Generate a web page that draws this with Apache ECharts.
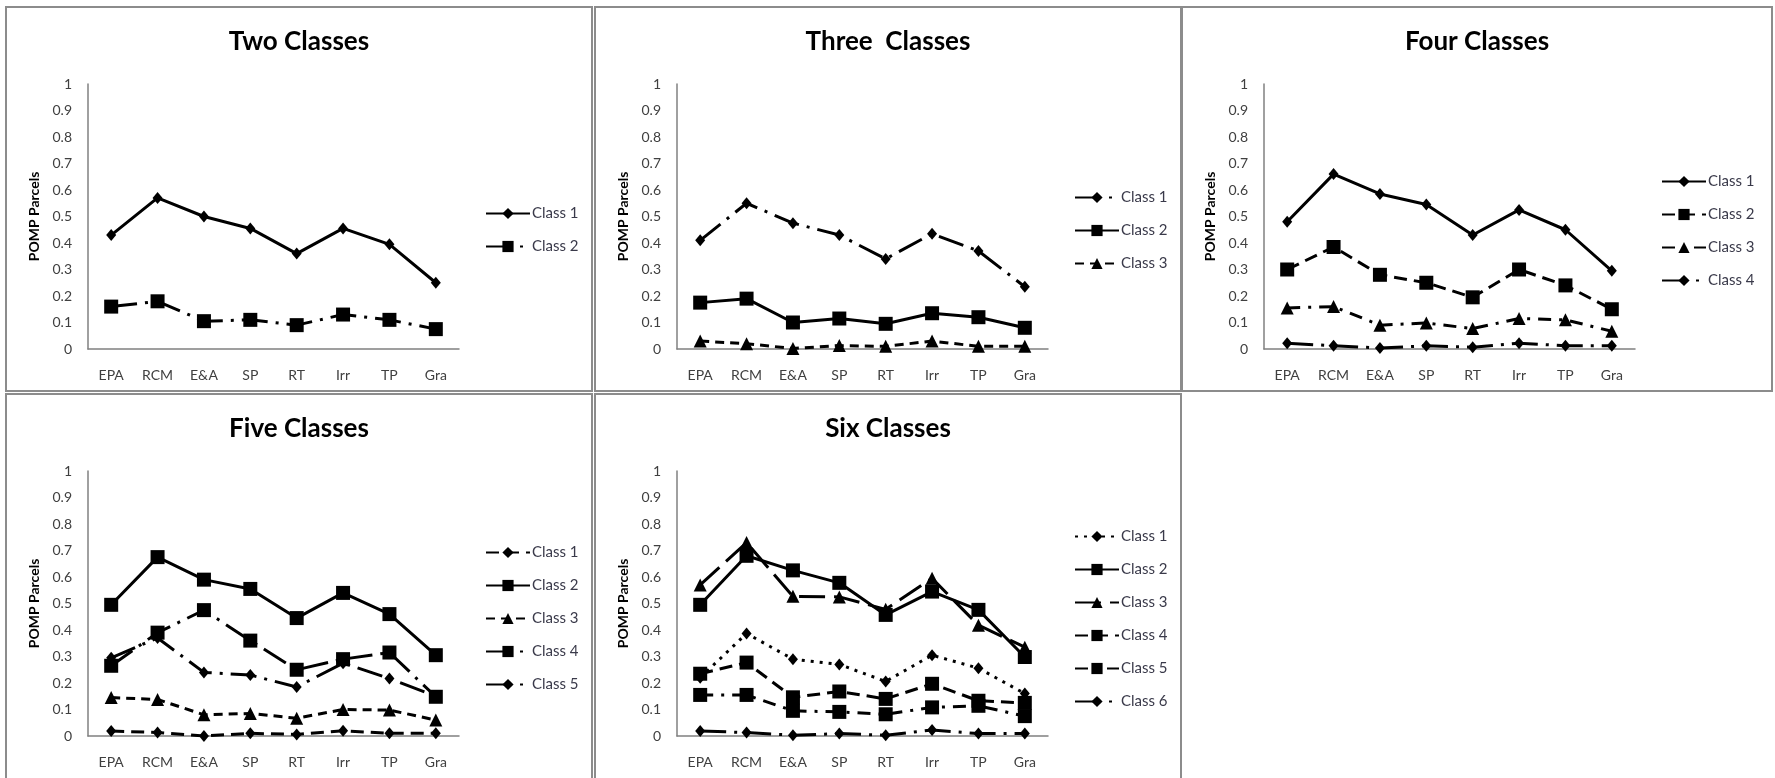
<!DOCTYPE html>
<html><head><meta charset="utf-8">
<script src="https://cdn.jsdelivr.net/npm/echarts@6/dist/echarts.min.js"></script>
<style>
html,body{margin:0;padding:0;background:#fff;width:1775px;height:778px;overflow:hidden;position:relative}
.panel{position:absolute;border:2px solid #8c8c8c;box-sizing:border-box;background:#fff}
</style></head><body>
<div id="p1" class="panel" style="left:5px;top:6px;width:588px;height:386px"></div>
<div id="p2" class="panel" style="left:594px;top:6px;width:588px;height:386px"></div>
<div id="p3" class="panel" style="left:1181px;top:6px;width:592px;height:386px"></div>
<div id="p4" class="panel" style="left:5px;top:393px;width:588px;height:392px"></div>
<div id="p5" class="panel" style="left:594px;top:393px;width:588px;height:392px"></div>
<script>
// ---- data ----
const categories = ['EPA', 'RCM', 'E&A', 'SP', 'RT', 'Irr', 'TP', 'Gra'];
const yTickLabels = ['0', '0.1', '0.2', '0.3', '0.4', '0.5', '0.6', '0.7', '0.8', '0.9', '1'];
const classNames = ['Class 1', 'Class 2', 'Class 3', 'Class 4', 'Class 5', 'Class 6'];
const panelTitles = ['Two Classes', 'Three  Classes', 'Four Classes', 'Five Classes', 'Six Classes'];
const yAxisName = 'POMP Parcels';

// Two classes
const two_c1 = [0.43, 0.57, 0.50, 0.455, 0.36, 0.455, 0.395, 0.25];
const two_c2 = [0.16, 0.18, 0.105, 0.11, 0.09, 0.13, 0.11, 0.075];
// Three classes
const three_c1 = [0.41, 0.55, 0.475, 0.43, 0.34, 0.435, 0.37, 0.235];
const three_c2 = [0.175, 0.19, 0.10, 0.115, 0.095, 0.135, 0.12, 0.08];
const three_c3 = [0.03, 0.02, 0.002, 0.013, 0.01, 0.03, 0.01, 0.01];
// Four classes
const four_c1 = [0.48, 0.66, 0.585, 0.545, 0.43, 0.525, 0.45, 0.295];
const four_c2 = [0.30, 0.385, 0.28, 0.25, 0.195, 0.30, 0.24, 0.15];
const four_c3 = [0.155, 0.16, 0.09, 0.098, 0.077, 0.115, 0.11, 0.067];
const four_c4 = [0.022, 0.012, 0.004, 0.012, 0.007, 0.022, 0.012, 0.012];
// Five classes
const five_c1 = [0.019, 0.013, 0.0, 0.01, 0.006, 0.02, 0.01, 0.01];
const five_c2 = [0.495, 0.675, 0.59, 0.555, 0.445, 0.54, 0.46, 0.305];
const five_c3 = [0.145, 0.138, 0.08, 0.085, 0.067, 0.10, 0.098, 0.06];
const five_c4 = [0.265, 0.39, 0.475, 0.36, 0.25, 0.29, 0.315, 0.148];
const five_c5 = [0.295, 0.37, 0.24, 0.23, 0.185, 0.275, 0.217, 0.15];
// Six classes
const six_c1 = [0.22, 0.387, 0.29, 0.27, 0.206, 0.305, 0.256, 0.16];
const six_c2 = [0.495, 0.68, 0.625, 0.578, 0.457, 0.545, 0.476, 0.298];
const six_c3 = [0.57, 0.73, 0.527, 0.525, 0.478, 0.595, 0.418, 0.335];
const six_c4 = [0.235, 0.277, 0.146, 0.168, 0.14, 0.197, 0.133, 0.125];
const six_c5 = [0.155, 0.155, 0.095, 0.091, 0.082, 0.108, 0.114, 0.075];
const six_c6 = [0.019, 0.013, 0.003, 0.009, 0.003, 0.023, 0.009, 0.009];

// ---- styles ----
const DASH = {
  solid: 'solid',
  longDash: [26, 9],
  dash: [13, 7],
  shortDash: [9, 6],
  dashDot: [13, 8, 3, 8],
  longDashDot: [26, 8, 3, 8],
  dot: [3, 6]
};
const SYM = {
  diamond: {symbol: 'diamond', size: [10, 12]},
  square: {symbol: 'rect', size: 14},
  triangle: {symbol: 'triangle', size: 13}
};

const panels = [
  {id: 'p1', title: panelTitles[0], series: [
    {data: two_c1, dash: 'solid', sym: 'diamond'},
    {data: two_c2, dash: 'longDashDot', sym: 'square'}]},
  {id: 'p2', title: panelTitles[1], series: [
    {data: three_c1, dash: 'longDashDot', sym: 'diamond'},
    {data: three_c2, dash: 'solid', sym: 'square'},
    {data: three_c3, dash: 'shortDash', sym: 'triangle'}]},
  {id: 'p3', title: panelTitles[2], series: [
    {data: four_c1, dash: 'solid', sym: 'diamond'},
    {data: four_c2, dash: 'dash', sym: 'square'},
    {data: four_c3, dash: 'dashDot', sym: 'triangle'},
    {data: four_c4, dash: 'longDashDot', sym: 'diamond'}]},
  {id: 'p4', title: panelTitles[3], series: [
    {data: five_c1, dash: 'dash', sym: 'diamond'},
    {data: five_c2, dash: 'solid', sym: 'square'},
    {data: five_c3, dash: 'shortDash', sym: 'triangle'},
    {data: five_c4, dash: 'longDashDot', sym: 'square'},
    {data: five_c5, dash: 'longDashDot', sym: 'diamond'}]},
  {id: 'p5', title: panelTitles[4], series: [
    {data: six_c1, dash: 'dot', sym: 'diamond'},
    {data: six_c2, dash: 'solid', sym: 'square'},
    {data: six_c3, dash: 'longDash', sym: 'triangle'},
    {data: six_c4, dash: 'dash', sym: 'square'},
    {data: six_c5, dash: 'dashDot', sym: 'square'},
    {data: six_c6, dash: 'longDashDot', sym: 'diamond'}]}
];

// layout (relative to each panel's content box)
const GRID_LEFT = 81, GRID_W = 371, GRID_TOP = 76, GRID_H = 265;
const LEG_LEFT = 478, ITEM_PITCH = 32, LEG_CENTER = GRID_TOP + 145;

panels.forEach(function (p) {
  const el = document.getElementById(p.id);
  const chart = echarts.init(el, null, {renderer: 'canvas'});
  const n = p.series.length;
  const names = classNames.slice(0, n);
  const option = {
    animation: false,
    backgroundColor: '#fff',
    title: {
      text: p.title, left: 'center', top: 21, padding: 0,
      textStyle: {fontFamily: 'Lato', fontWeight: 'bold', fontSize: 26, color: '#000'}
    },
    grid: {left: GRID_LEFT, top: GRID_TOP, width: GRID_W, height: GRID_H, containLabel: false},
    legend: {
      orient: 'vertical', left: LEG_LEFT, padding: 0,
      top: LEG_CENTER - (n - 1) * ITEM_PITCH / 2 - 7,
      itemWidth: 44, itemHeight: 14, itemGap: ITEM_PITCH - 14,
      textStyle: {fontFamily: 'Lato', fontSize: 15, color: '#3a3a4a', padding: [0, 0, 0, -3]},
      data: names
    },
    xAxis: {
      type: 'category', data: categories, boundaryGap: true,
      axisLine: {lineStyle: {color: '#808080', width: 1.5}},
      axisTick: {show: false},
      axisLabel: {fontFamily: 'Lato', fontSize: 14, color: '#404040', margin: 19, interval: 0}
    },
    yAxis: {
      type: 'value', min: 0, max: 1, interval: 0.1,
      name: yAxisName, nameLocation: 'middle', nameGap: 42,
      nameTextStyle: {fontFamily: 'Lato', fontWeight: 'bold', fontSize: 14, color: '#000'},
      axisLine: {show: true, lineStyle: {color: '#808080', width: 1.5}},
      axisTick: {show: false},
      splitLine: {show: false},
      axisLabel: {fontFamily: 'Lato', fontSize: 14, color: '#404040', margin: 16,
        formatter: function (v) { return yTickLabels[Math.round(v * 10)]; }}
    },
    series: p.series.map(function (s, i) {
      const sy = SYM[s.sym];
      return {
        name: names[i], type: 'line', data: s.data,
        symbol: sy.symbol, symbolSize: sy.size, showSymbol: true,
        itemStyle: {color: '#000', borderWidth: 0},
        lineStyle: {color: '#000', width: 3, type: DASH[s.dash]},
        z: 10 - i
      };
    })
  };
  chart.setOption(option);
});
</script>
</body></html>
